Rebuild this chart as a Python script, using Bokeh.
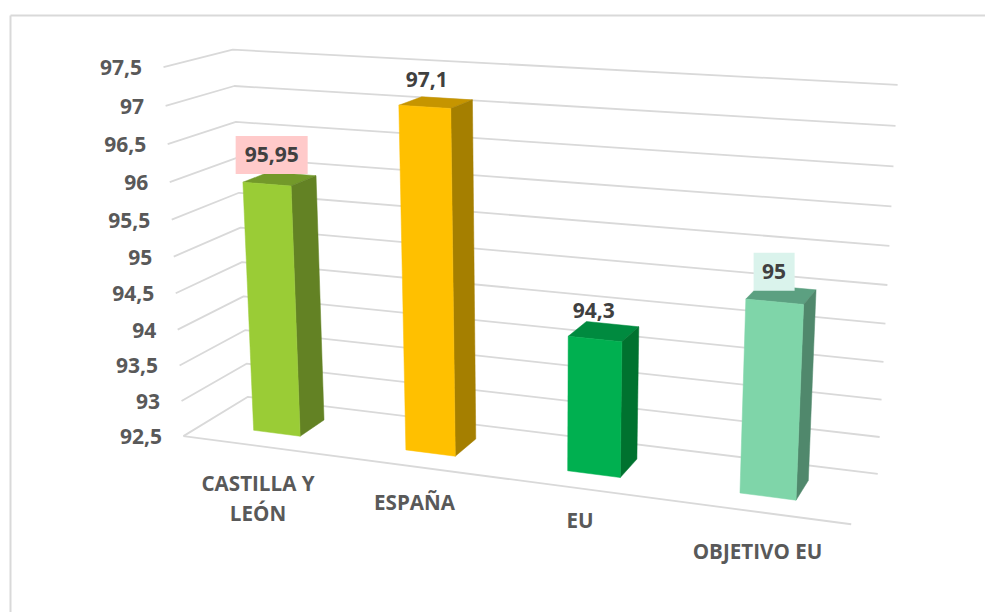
import numpy as np
from bokeh.plotting import figure
from bokeh.embed import file_html
from bokeh.resources import INLINE
from bokeh.core.properties import value as fixed

# ---- data ----
categories = ["CASTILLA Y\nLEÓN", "ESPAÑA", "EU", "OBJETIVO EU"]
values = [95.95, 97.1, 94.3, 95.0]
value_labels = ["95,95", "97,1", "94,3", "95"]
ticks = [92.5, 93.0, 93.5, 94.0, 94.5, 95.0, 95.5, 96.0, 96.5, 97.0, 97.5]
tick_labels = ["92,5", "93", "93,5", "94", "94,5", "95", "95,5", "96", "96,5", "97", "97,5"]

# ---- styles ----
front_colors = ["#9ACC36", "#FFC000", "#00B050", "#7FD5A9"]
top_colors = ["#73992A", "#C69500", "#008A3F", "#5CA081"]
side_colors = ["#638224", "#A57F00", "#00722F", "#50886C"]
label_boxes = [("#FFCACA", 72, 38), None, None, ("#DAF3EC", 41, 38)]
GRID = "#D9D9D9"
AXIS_TEXT = "#595959"
VALUE_TEXT = "#404040"
FONT = "Open Sans"

# ---- camera of the 3-D chart box: (category pos, value, depth) -> page pixel ----
calibration = [
    ((0, 92.5, 0), (183, 436)), ((4, 92.5, 0), (851, 523)), ((0, 92.5, 1), (247, 396)),
    ((4, 92.5, 1), (877, 474)), ((0, 97.5, 1), (232, 49)), ((4, 97.5, 1), (897, 84)),
    ((0, 97.5, 0), (163, 67)), ((0, 95, 0), (173, 256)), ((0, 95, 1), (241, 227)),
    ((4, 95, 1), (887, 285)), ((0, 97, 0), (165, 105.5)), ((0, 93, 0), (181, 400.5)),
]
rows = []
for (u, v, w), (x, y) in calibration:
    v = v - ticks[0]
    rows.append([u, v, w, 1, 0, 0, 0, 0, -x * u, -x * v, -x * w, -x])
    rows.append([0, 0, 0, 0, u, v, w, 1, -y * u, -y * v, -y * w, -y])
CAM = np.linalg.svd(np.array(rows, float))[2][-1].reshape(3, 4)


def proj(u, v, w):
    h = CAM @ np.array([u, v - ticks[0], w, 1.0])
    return h[0] / h[2], h[1] / h[2]


def poly(*corners):
    xy = [proj(*c) for c in corners]
    return [p[0] for p in xy], [p[1] for p in xy]


n = len(categories)
p = figure(width=985, height=612, x_range=(0, 985), y_range=(612, 0),
           output_backend="svg", toolbar_location=None, min_border=0,
           x_axis_type=None, y_axis_type=None, outline_line_color=None,
           background_fill_color="white", border_fill_color="white")
p.grid.visible = False

# chart frame (runs off the page at right and bottom)
p.line([10, 10], [612, 15], line_color=GRID, line_width=2)
p.line([10, 985], [15, 15], line_color=GRID, line_width=2)

# gridlines: side wall + back wall, one polyline per tick
gx, gy = [], []
for t in ticks:
    xs, ys = poly((0, t, 0), (0, t, 1), (n, t, 1))
    gx.append(xs)
    gy.append(ys)
xs, ys = poly((0, ticks[0], 0), (n, ticks[0], 0))
gx.append(xs)
gy.append(ys)
p.multi_line(gx, gy, line_color=GRID, line_width=1.8)

# bars
U0, U1, W0, W1 = 0.342, 0.654, 0.30, 0.70
base = ticks[0]
for i, val in enumerate(values):
    a, b = i + U0, i + U1
    tx, ty = poly((a, val, W0), (b, val, W0), (b, val, W1), (a, val, W1))
    sx, sy = poly((b, base, W0), (b, val, W0), (b, val, W1), (b, base, W1))
    fx, fy = poly((a, base, W0), (b, base, W0), (b, val, W0), (a, val, W0))
    p.patch(tx, ty, fill_color=top_colors[i], line_color=top_colors[i], line_width=0.5)
    p.patch(sx, sy, fill_color=side_colors[i], line_color=side_colors[i], line_width=0.5)
    p.patch(fx, fy, fill_color=front_colors[i], line_color=front_colors[i], line_width=0.5)

# value labels (offset from the rear top centre of each bar)
label_offsets = [(-21, -19), (-20.5, -18.5), (-19, -13.5), (-14, -15.5)]
for i, val in enumerate(values):
    cx, cy = proj(i + 0.5, val, W1)
    cx += label_offsets[i][0]
    cy += label_offsets[i][1]
    if label_boxes[i]:
        col, bw, bh = label_boxes[i]
        p.rect([cx], [cy], width=bw, height=bh, fill_color=col, line_color=None)
    p.text([cx], [cy], text=[value_labels[i]], text_align="center", text_baseline="middle",
           text_font=fixed(FONT), text_font_style="bold", text_font_size="21px",
           text_color=VALUE_TEXT)

# value-axis labels along the front edge of the side wall
for t, lab in zip(ticks, tick_labels):
    x, y = proj(0, t, 0)
    p.text([x - 21.5], [y + 0.5], text=[lab], text_align="right", text_baseline="middle",
           text_font=fixed(FONT), text_font_style="bold", text_font_size="21px",
           text_color=AXIS_TEXT)

# category labels
cat_anchor = [(257.5, 482.5), (414, 501.5), (579.5, 519.5), (757, 550.5)]
for cat, (x, y) in zip(categories, cat_anchor):
    for k, line in enumerate(cat.split("\n")):
        p.text([x], [y + k * 29.5], text=[line], text_align="center", text_baseline="middle",
               text_font=fixed(FONT), text_font_style="bold", text_font_size="20.6px",
               text_color=AXIS_TEXT)

open("out.html", "w").write(file_html(p, INLINE))
